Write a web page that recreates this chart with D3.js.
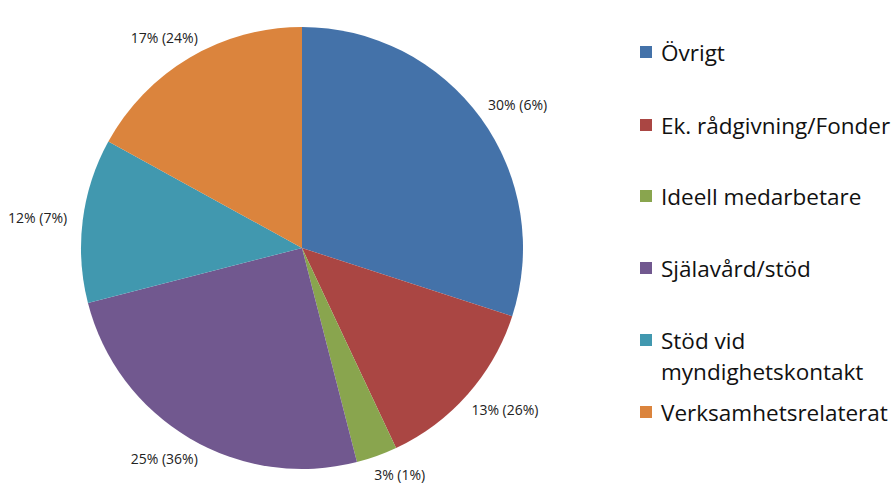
<!DOCTYPE html>
<html><head><meta charset="utf-8">
<script src="https://cdn.jsdelivr.net/npm/d3@7"></script>
<style>html,body{margin:0;padding:0;background:#fff;}</style>
</head><body>
<svg id="chart" width="895" height="483"></svg>
<script>
const categories = ["Övrigt","Ek. rådgivning/Fonder","Ideell medarbetare","Själavård/stöd","Stöd vid myndighetskontakt","Verksamhetsrelaterat"];
const values = [30, 13, 3, 25, 12, 17];
const secondary = [6, 26, 1, 36, 7, 24];
const colors = ["#4472A9","#AA4643","#89A54E","#71588F","#4198AF","#DB843D"];
const legendLines = [["Övrigt"],["Ek. rådgivning/Fonder"],["Ideell medarbetare"],["Själavård/stöd"],["Stöd vid","myndighetskontakt"],["Verksamhetsrelaterat"]];
const legendY = [52, 125, 196, 268, 340, 412];

const svg = d3.select("#chart");
const cx = 302, cy = 248, r = 221;
const g = svg.append("g").attr("transform", `translate(${cx},${cy})`);
const pie = d3.pie().sort(null).value(d => d)(values);
const arc = d3.arc().innerRadius(0).outerRadius(r);
const color = d3.scaleOrdinal().domain(categories).range(colors);

g.selectAll("path").data(pie).enter().append("path")
  .attr("d", arc).attr("fill", (d,i) => color(categories[i]))
  .attr("stroke", "none");

const lblFont = "14px 'Open Sans', 'DejaVu Sans', sans-serif";
const labels = g.selectAll("text.lbl").data(pie).enter().append("text")
  .attr("class","lbl")
  .style("font", lblFont).attr("fill","#222")
  .attr("text-anchor","middle").attr("dominant-baseline","central")
  .text((d,i) => `${values[i]}% (${secondary[i]}%)`);
labels.each(function(d){
  const w = this.getComputedTextLength(), h = 14;
  const a = (d.startAngle + d.endAngle)/2;
  const dx = Math.sin(a), dy = -Math.cos(a);
  let x = dx*(r+16) + dx*w/2, y = dy*(r+16) + dy*h/2;
  const R = Math.hypot(x,y);
  const ymin = 22 - cy, ymax = 474 - cy;
  if (y < ymin || y > ymax) {
    y = Math.max(ymin, Math.min(ymax, y));
    x = Math.sign(x) * Math.sqrt(Math.max(0, R*R - y*y));
  }
  d3.select(this).attr("x", x).attr("y", y);
});

const leg = svg.append("g");
const legTexts = [];
legendLines.forEach((lines, i) => {
  leg.append("rect").attr("x", 640).attr("y", legendY[i]-6).attr("width", 12).attr("height", 12)
    .attr("fill", colors[i]);
  const t = leg.append("text").attr("x", 661).attr("y", legendY[i])
    .attr("dominant-baseline","central")
    .style("font-family", "'Open Sans', sans-serif").style("font-size","20px").attr("fill","#111");
  lines.forEach((l, j) => t.append("tspan").attr("x", 661).attr("dy", j === 0 ? 0 : 31).text(l));
  legTexts.push(t);
});
// fit font so the longest legend entry spans the reference width
const longest = legTexts[5].node().getComputedTextLength();
const fs = 20 * 227 / longest;
legTexts.forEach(t => t.style("font-size", fs + "px"));
</script>
</body></html>
